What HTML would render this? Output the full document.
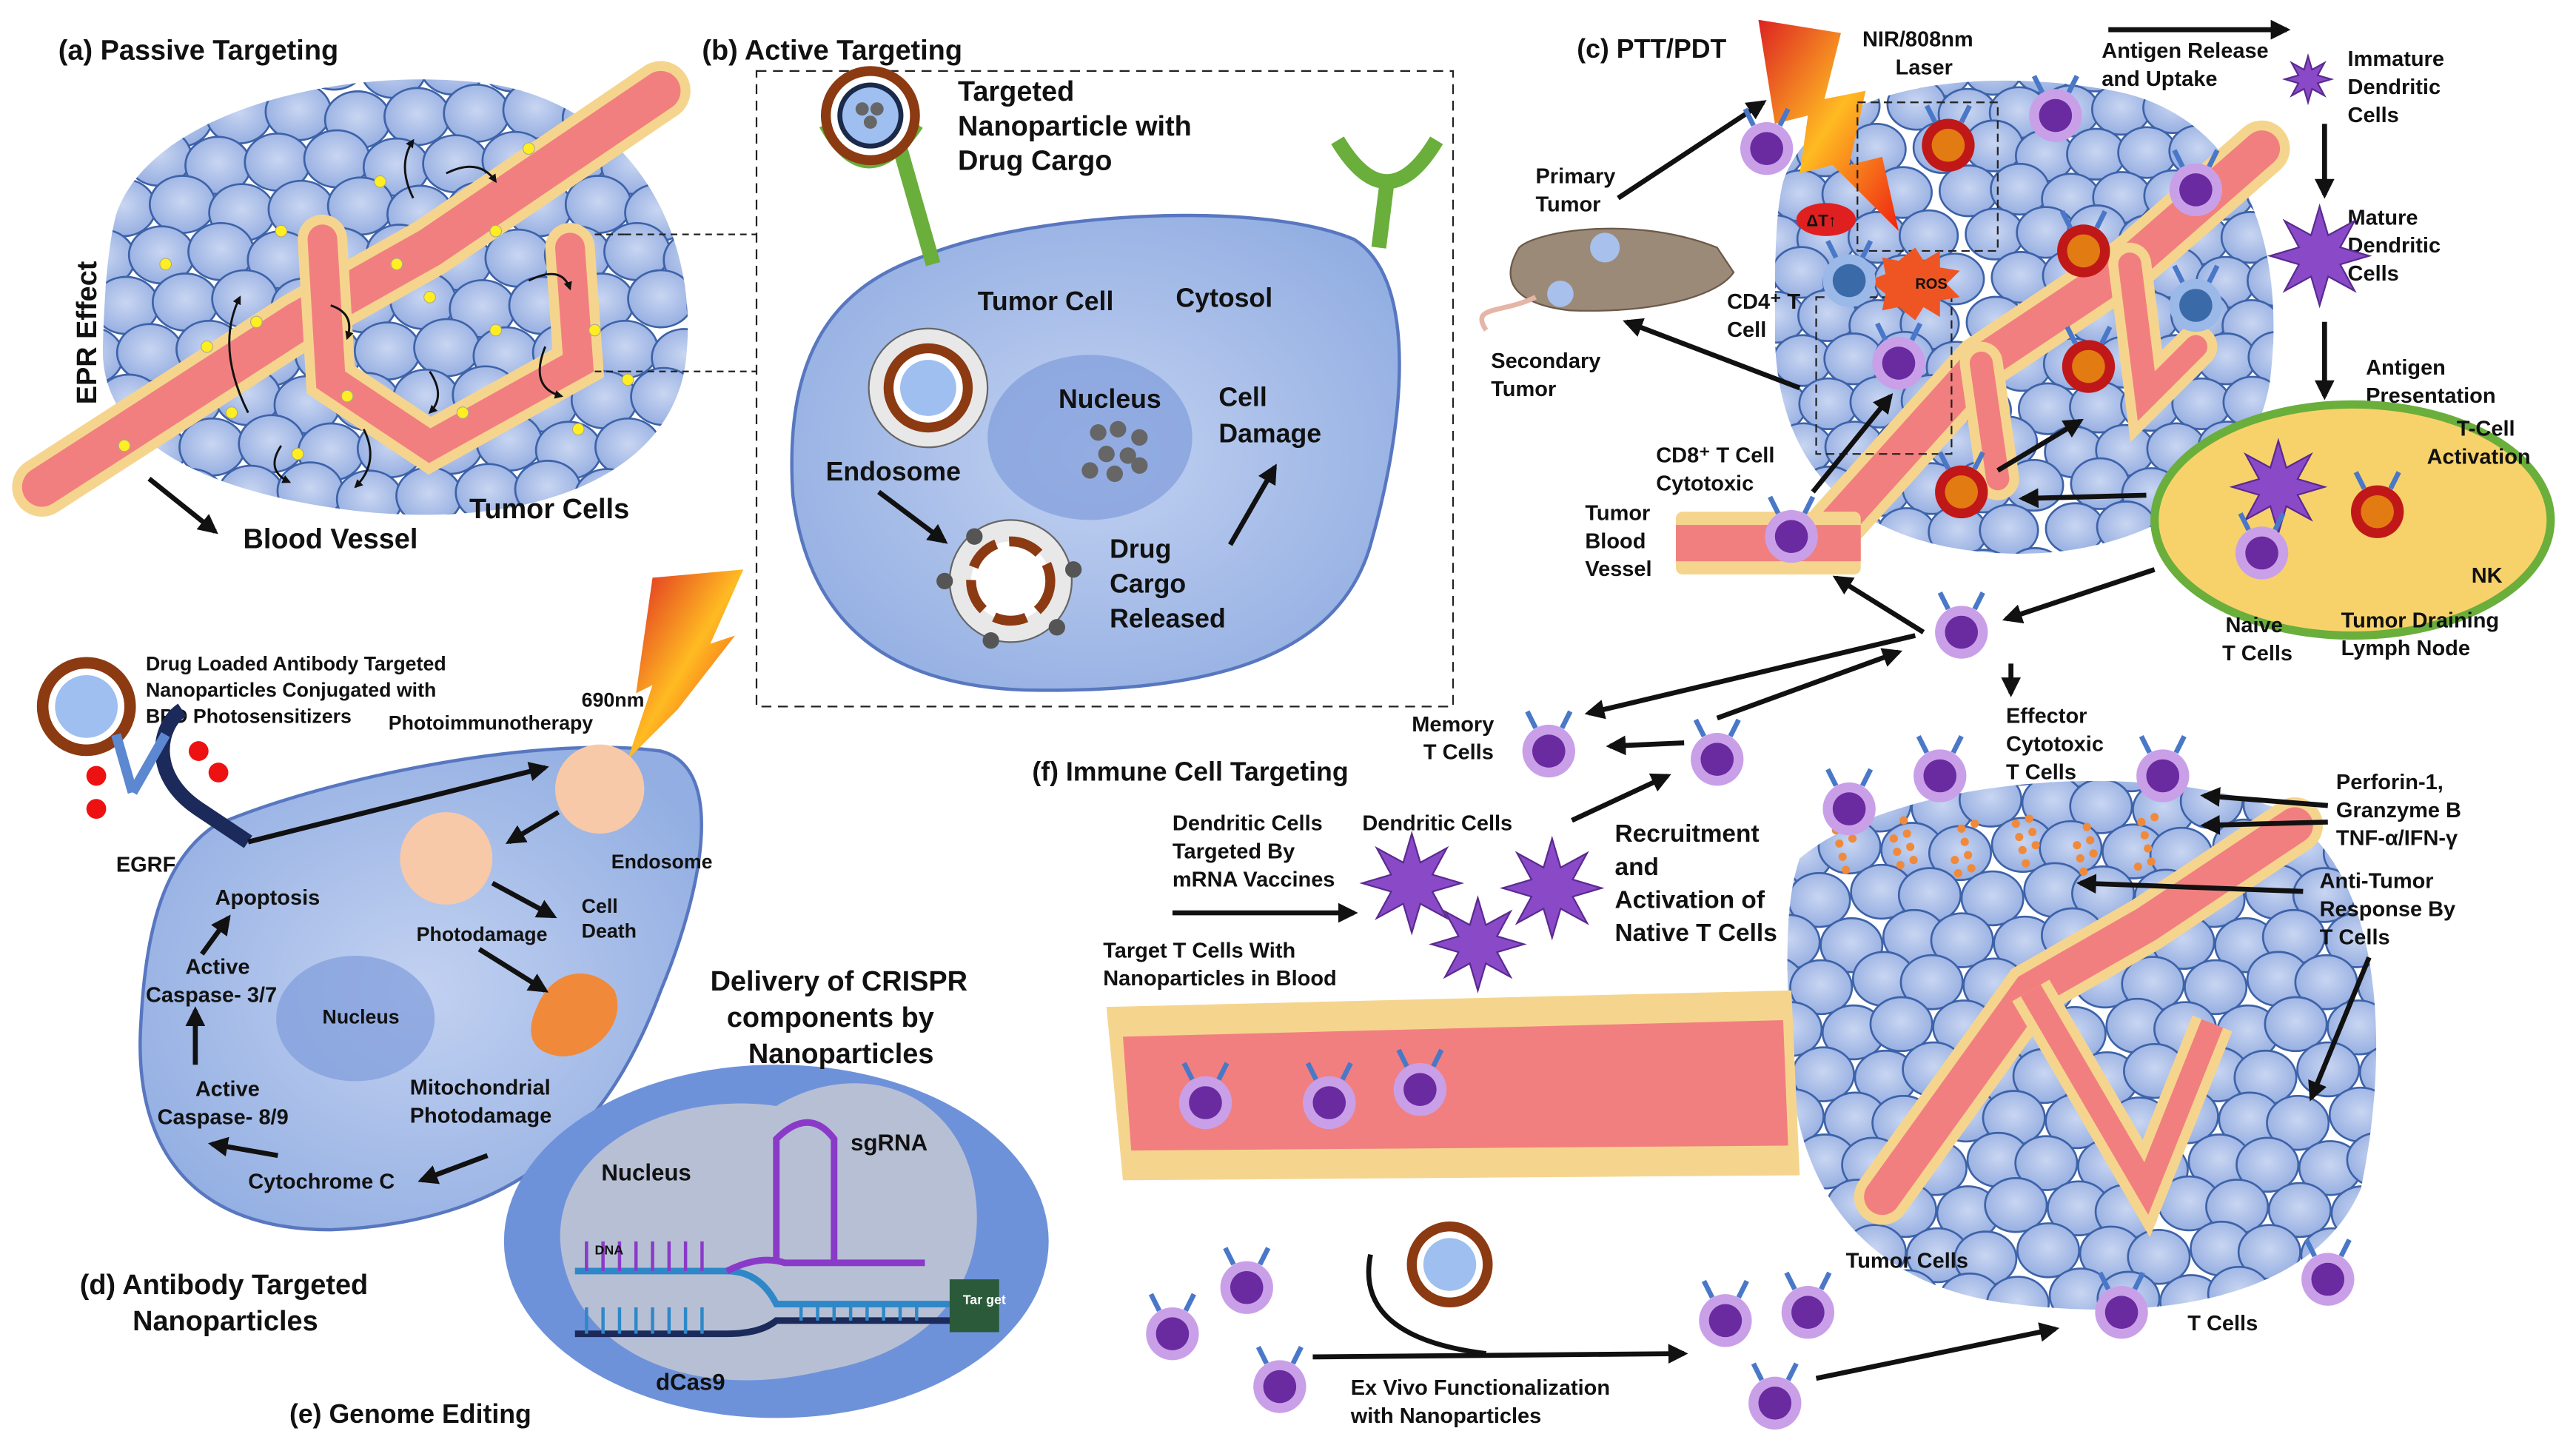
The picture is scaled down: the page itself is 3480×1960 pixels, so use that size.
<!DOCTYPE html>
<html><head><meta charset="utf-8"><style>
html,body{margin:0;padding:0;background:#fff}
svg{display:block}
text{font-family:"Liberation Sans",Arial,sans-serif;font-weight:bold;fill:#111}
</style></head><body>
<svg id="s" width="3480" height="1960" viewBox="0 0 1560 879" xmlns="http://www.w3.org/2000/svg">
<defs>
<radialGradient id="cell" cx="50%" cy="45%" r="60%"><stop offset="0" stop-color="#c9d6f2"/><stop offset="1" stop-color="#93ace0"/></radialGradient>
<radialGradient id="big" cx="50%" cy="50%" r="60%"><stop offset="0" stop-color="#c2d1f1"/><stop offset="1" stop-color="#92aee2"/></radialGradient>
<linearGradient id="bolt" x1="0" y1="0" x2="1" y2="1"><stop offset="0" stop-color="#d22"/><stop offset=".5" stop-color="#fb2"/><stop offset="1" stop-color="#e21"/></linearGradient>
<marker id="ar" viewBox="0 0 10 10" refX="8" refY="5" markerWidth="4" markerHeight="4" orient="auto"><path d="M0,0L10,5L0,10z" fill="#111"/></marker>
<clipPath id="ca"><path d="M70,130 C90,70 200,40 290,50 C380,60 425,140 415,220 C405,290 320,320 220,310 C130,300 60,270 62,210 C63,175 65,150 70,130Z"/></clipPath>
<clipPath id="cc"><path d="M1080,110 C1100,50 1200,40 1280,55 C1360,70 1385,150 1375,230 C1365,300 1290,340 1210,335 C1120,330 1075,280 1075,200 C1075,160 1075,130 1080,110Z"/></clipPath>
<clipPath id="cf"><path d="M1090,520 C1150,470 1300,460 1380,490 C1450,530 1445,650 1430,720 C1400,790 1300,800 1220,790 C1130,780 1090,720 1085,650 C1082,590 1080,550 1090,520Z"/></clipPath>
</defs>
<g id="cobA" clip-path="url(#ca)"></g>
<g id="cobC" clip-path="url(#cc)"></g>
<g id="cobF" clip-path="url(#cf)"></g>

<!-- (a) vessels -->
<g fill="none" stroke-linecap="round">
<path d="M25,295 L180,195 L260,150 L400,55" stroke="#f5d58e" stroke-width="36"/>
<path d="M25,295 L180,195 L260,150 L400,55" stroke="#f27f7f" stroke-width="24"/>
<path d="M195,145 L200,230 L260,270 L350,220 L345,150" stroke="#f5d58e" stroke-width="30"/>
<path d="M195,145 L200,230 L260,270 L350,220 L345,150" stroke="#f27f7f" stroke-width="18"/>
</g>
<g stroke="#111" fill="none" stroke-width="1.3" marker-end="url(#ar)">
<path d="M150,250 Q130,210 145,180"/><path d="M250,120 Q240,100 250,85"/><path d="M270,105 Q290,95 300,110"/><path d="M320,170 Q340,160 345,175"/><path d="M170,270 Q160,285 175,292"/><path d="M220,260 Q230,280 215,295"/><path d="M330,210 Q320,235 340,240"/><path d="M200,185 Q215,190 210,205"/><path d="M260,225 Q270,240 260,250"/>
</g>
<g fill="#ffee22" stroke="#aa8" stroke-width=".5" id="dotsA"></g>
<path d="M360,142 L378,142 M360,225 L378,225" stroke="#222" stroke-dasharray="4,3"/>
<path d="M378,142 L458,142 M378,225 L458,225" stroke="#222" stroke-dasharray="4,3"/>
<text x="35" y="36" font-size="17">(a)  Passive Targeting</text>
<text transform="translate(58,245) rotate(-90)" font-size="17">EPR Effect</text>
<path d="M90,290 L130,322" stroke="#111" stroke-width="3" marker-end="url(#ar)"/>
<text x="147" y="332" font-size="17">Blood Vessel</text>
<text x="284" y="314" font-size="17">Tumor Cells</text>

<!-- (b) -->
<text x="425" y="36" font-size="17">(b)  Active Targeting</text>
<rect x="458" y="43" width="422" height="385" fill="none" stroke="#222" stroke-dasharray="6,4"/>
<path d="M560,155 C620,130 760,120 820,145 C860,170 850,260 830,330 C810,400 730,420 620,418 C540,415 490,380 480,300 C475,220 500,175 560,155Z" fill="url(#big)" stroke="#5877c0" stroke-width="2"/>
<ellipse cx="660" cy="265" rx="62" ry="50" fill="#7f9ddb" opacity=".7"/>
<g fill="#666"><circle cx="665" cy="262" r="5"/><circle cx="677" cy="260" r="5"/><circle cx="690" cy="265" r="5"/><circle cx="670" cy="275" r="5"/><circle cx="683" cy="276" r="5"/><circle cx="660" cy="285" r="5"/><circle cx="675" cy="287" r="5"/><circle cx="690" cy="282" r="5"/></g>
<path d="M565,160 L545,90" stroke="#6aae3c" stroke-width="9"/>
<path d="M500,75 Q525,120 555,75" fill="none" stroke="#6aae3c" stroke-width="9"/>
<circle cx="527" cy="70" r="30" fill="#8b3a12"/><circle cx="527" cy="70" r="24" fill="#fff"/><circle cx="527" cy="70" r="20" fill="#1b2a4a"/><circle cx="527" cy="70" r="17" fill="#9ebff0"/>
<g fill="#666"><circle cx="522" cy="66" r="4"/><circle cx="531" cy="66" r="4"/><circle cx="527" cy="74" r="4"/></g>
<path d="M835,150 L840,110" stroke="#6aae3c" stroke-width="9"/>
<path d="M810,85 Q840,135 870,85" fill="none" stroke="#6aae3c" stroke-width="9"/>
<circle cx="562" cy="235" r="36" fill="#e8e8e8" stroke="#666"/>
<circle cx="562" cy="235" r="27" fill="#8b3a12"/><circle cx="562" cy="235" r="21" fill="#fff"/><circle cx="562" cy="235" r="17" fill="#9ebff0"/>
<circle cx="612" cy="352" r="37" fill="#e8e8e8" stroke="#666"/>
<circle cx="612" cy="352" r="24" fill="#fff" stroke="#8b3a12" stroke-width="6" stroke-dasharray="20,8"/>
<g fill="#555"><circle cx="572" cy="352" r="5"/><circle cx="590" cy="325" r="5"/><circle cx="650" cy="345" r="5"/><circle cx="640" cy="380" r="5"/><circle cx="600" cy="388" r="5"/></g>
<text x="580" y="61" font-size="17">Targeted</text><text x="580" y="82" font-size="17">Nanoparticle with</text><text x="580" y="103" font-size="17">Drug Cargo</text>
<text x="592" y="188" font-size="16">Tumor Cell</text><text x="712" y="186" font-size="16">Cytosol</text>
<text x="641" y="247" font-size="16">Nucleus</text><text x="738" y="246" font-size="16">Cell</text><text x="738" y="268" font-size="16">Damage</text>
<text x="500" y="291" font-size="16">Endosome</text>
<text x="672" y="338" font-size="16">Drug</text><text x="672" y="359" font-size="16">Cargo</text><text x="672" y="380" font-size="16">Released</text>
<path d="M532,298 L572,328" stroke="#111" stroke-width="3" marker-end="url(#ar)"/>
<path d="M745,330 L772,283" stroke="#111" stroke-width="3" marker-end="url(#ar)"/>

<!-- (c) -->
<text x="955" y="35" font-size="16">(c)  PTT/PDT</text>
<path d="M1065,12 L1115,20 L1105,60 L1130,55 L1120,100 L1140,95 L1150,140 L1110,100 L1090,105 L1095,70 L1075,75Z" fill="url(#bolt)"/>
<text x="1128" y="28" font-size="13">NIR/808nm</text><text x="1148" y="45" font-size="13">Laser</text>
<g fill="none" stroke-linecap="round">
<path d="M1110,320 L1200,220 L1290,160 L1370,90" stroke="#f5d58e" stroke-width="34"/>
<path d="M1110,320 L1200,220 L1290,160 L1370,90" stroke="#f27f7f" stroke-width="22"/>
<path d="M1200,220 L1210,290 M1290,160 L1300,240 L1330,210" stroke="#f5d58e" stroke-width="26"/>
<path d="M1200,220 L1210,290 M1290,160 L1300,240 L1330,210" stroke="#f27f7f" stroke-width="14"/>
</g>
<rect x="1125" y="62" width="85" height="90" fill="none" stroke="#222" stroke-dasharray="5,3"/>
<rect x="1100" y="180" width="82" height="95" fill="none" stroke="#222" stroke-dasharray="5,3"/>
<path d="M920,150 C930,140 990,130 1040,150 L1050,165 C1040,180 1000,190 950,188 C925,185 905,175 920,150Z" fill="#9c8a78" stroke="#6b5a4a"/>
<path d="M930,180 C910,190 890,185 900,200" stroke="#e5b6a8" stroke-width="3" fill="none"/>
<circle cx="972" cy="150" r="9" fill="#a8c0ec"/><circle cx="945" cy="178" r="8" fill="#a8c0ec"/>
<text x="930" y="111" font-size="13">Primary</text><text x="930" y="128" font-size="13">Tumor</text>
<text x="903" y="223" font-size="13">Secondary</text><text x="903" y="240" font-size="13">Tumor</text>
<text x="1046" y="187" font-size="13">CD4⁺ T</text><text x="1046" y="204" font-size="13">Cell</text>
<text x="1003" y="280" font-size="13">CD8⁺ T Cell</text><text x="1003" y="297" font-size="13">Cytotoxic</text>
<text x="960" y="315" font-size="13">Tumor</text><text x="960" y="332" font-size="13">Blood</text><text x="960" y="349" font-size="13">Vessel</text>
<g stroke="#111" stroke-width="3" marker-end="url(#ar)" fill="none">
<path d="M980,120 L1068,62"/><path d="M1090,235 L985,195"/><path d="M1098,298 L1145,240"/><path d="M1210,285 L1260,255"/><path d="M1300,300 L1225,302"/><path d="M1305,345 L1215,375"/><path d="M1165,383 L1112,350"/><path d="M1277,18 L1385,18"/><path d="M1408,75 L1408,118"/><path d="M1408,195 L1408,240"/>
</g>
<ellipse cx="1106" cy="133" rx="18" ry="10" fill="#e02020"/><text x="1094" y="137" font-size="10">ΔT↑</text>
<path d="M1150,158 l10,-8 5,8 10,-6 0,10 12,2 -8,8 8,8 -12,2 0,10 -10,-6 -5,8 -10,-8 -10,2 2,-10 -10,-8 10,-4 -2,-10z" fill="#e52"/><text x="1160" y="175" font-size="9">ROS</text>
<rect x="1015" y="310" width="112" height="38" fill="#f5d58e" rx="4"/><rect x="1015" y="318" width="112" height="22" fill="#f27f7f"/>
<text x="1273" y="35" font-size="13">Antigen Release</text><text x="1273" y="52" font-size="13">and Uptake</text>
<text x="1422" y="40" font-size="13">Immature</text><text x="1422" y="57" font-size="13">Dendritic</text><text x="1422" y="74" font-size="13">Cells</text>
<text x="1422" y="136" font-size="13">Mature</text><text x="1422" y="153" font-size="13">Dendritic</text><text x="1422" y="170" font-size="13">Cells</text>
<text x="1433" y="227" font-size="13">Antigen</text><text x="1433" y="244" font-size="13">Presentation</text>
<ellipse cx="1425" cy="315" rx="120" ry="70" fill="#f7d26a" stroke="#6aae3c" stroke-width="5"/>
<text x="1488" y="264" font-size="13">T-Cell</text><text x="1470" y="281" font-size="13">Activation</text>
<text x="1497" y="353" font-size="13">NK</text>
<text x="1348" y="383" font-size="13">Naive</text><text x="1346" y="400" font-size="13">T Cells</text>
<text x="1418" y="380" font-size="13">Tumor Draining</text><text x="1418" y="397" font-size="13">Lymph Node</text>
<g id="dcs"></g>

<!-- (d) -->
<path d="M130,500 C200,470 330,445 400,455 C440,465 425,540 400,600 C370,680 320,740 200,745 C120,745 80,700 85,620 C88,560 100,520 130,500Z" fill="url(#big)" stroke="#5877c0" stroke-width="2"/>
<ellipse cx="215" cy="617" rx="48" ry="38" fill="#7f9ddb" opacity=".7"/>
<text x="195" y="620" font-size="12">Nucleus</text>
<path d="M395,350 L450,345 L430,390 L445,385 L410,430 L420,420 L380,460 L395,415 L385,420Z" fill="url(#bolt)"/>
<text x="352" y="428" font-size="12">690nm</text><text x="235" y="442" font-size="12">Photoimmunotherapy</text>
<text x="88" y="406" font-size="12">Drug Loaded Antibody Targeted</text><text x="88" y="422" font-size="12">Nanoparticles Conjugated with</text><text x="88" y="438" font-size="12">BPD Photosensitizers</text>
<circle cx="52" cy="428" r="30" fill="#8b3a12"/><circle cx="52" cy="428" r="23" fill="#fff"/><circle cx="52" cy="428" r="19" fill="#9ebff0"/>
<path d="M150,510 L120,490 C90,470 95,440 110,430" stroke="#1b2a5a" stroke-width="9" fill="none"/>
<path d="M70,445 L80,480 M100,445 L80,480" stroke="#5b88d0" stroke-width="6"/>
<g fill="#e11"><circle cx="58" cy="470" r="6"/><circle cx="58" cy="490" r="6"/><circle cx="120" cy="455" r="6"/><circle cx="132" cy="468" r="6"/></g>
<text x="70" y="528" font-size="13">EGRF</text>
<circle cx="363" cy="478" r="27" fill="#f8c9a8"/><circle cx="270" cy="520" r="28" fill="#f8c9a8"/>
<path d="M325,610 C335,585 360,585 372,600 C380,620 360,640 340,640 C320,638 318,625 325,610Z" fill="#f08a3a"/>
<text x="370" y="526" font-size="12">Endosome</text><text x="252" y="570" font-size="12">Photodamage</text>
<text x="352" y="553" font-size="12">Cell</text><text x="352" y="568" font-size="12">Death</text>
<text x="130" y="548" font-size="13">Apoptosis</text>
<text x="112" y="590" font-size="13">Active</text><text x="88" y="607" font-size="13">Caspase- 3/7</text>
<text x="118" y="664" font-size="13">Active</text><text x="95" y="681" font-size="13">Caspase- 8/9</text>
<text x="150" y="720" font-size="13">Cytochrome C</text>
<text x="248" y="663" font-size="13">Mitochondrial</text><text x="248" y="680" font-size="13">Photodamage</text>
<g stroke="#111" stroke-width="3" marker-end="url(#ar)">
<line x1="150" y1="510" x2="330" y2="465"/><line x1="338" y1="492" x2="308" y2="510"/><line x1="298" y1="535" x2="335" y2="555"/><line x1="290" y1="575" x2="330" y2="600"/><line x1="295" y1="700" x2="255" y2="715"/><line x1="168" y1="700" x2="128" y2="693"/><line x1="118" y1="645" x2="118" y2="612"/><line x1="122" y1="578" x2="138" y2="556"/>
</g>
<text x="48" y="784" font-size="17">(d)  Antibody Targeted</text><text x="80" y="806" font-size="17">Nanoparticles</text>

<!-- (e) -->
<ellipse cx="470" cy="752" rx="165" ry="107" fill="#6e92da"/>
<path d="M340,760 C330,700 400,660 470,670 C520,640 580,660 590,720 C600,780 560,820 500,830 C420,850 350,820 340,760Z" fill="#b7bfd4"/>
<text x="430" y="600" font-size="17">Delivery of CRISPR</text><text x="440" y="622" font-size="17">components by</text><text x="453" y="644" font-size="17">Nanoparticles</text>
<text x="364" y="715" font-size="14">Nucleus</text><text x="515" y="697" font-size="14">sgRNA</text><text x="397" y="842" font-size="14">dCas9</text>
<g stroke-width="4" fill="none">
<path d="M348,770 L440,770 Q460,770 470,790 L580,790" stroke="#2e88c8"/>
<path d="M348,808 L440,808 Q460,808 470,800 L580,800" stroke="#1b2a5a"/>
<path d="M440,770 Q460,760 475,765 L560,765" stroke="#8a3ac8"/>
<path d="M470,765 L470,690 Q490,670 505,690 L505,765" stroke="#8a3ac8"/>
</g>
<g stroke="#8a3ac8" stroke-width="2"><path d="M355,770v-18M365,770v-18M375,770v-18M385,770v-18M395,770v-18M405,770v-18M415,770v-18M425,770v-18" /></g>
<g stroke="#2e88c8" stroke-width="2"><path d="M355,808v-16M365,808v-16M375,808v-16M385,808v-16M395,808v-16M405,808v-16M415,808v-16M425,808v-16M485,800v-10M495,800v-10M505,800v-10M515,800v-10M525,800v-10M535,800v-10M545,800v-10M555,800v-10"/></g>
<rect x="575" y="775" width="30" height="32" fill="#2a5a3a"/><text x="583" y="790" font-size="8" fill="#fff" style="fill:#fff">Tar get</text>
<text x="360" y="760" font-size="8">DNA</text>
<text x="175" y="862" font-size="16">(e)  Genome Editing</text>

<!-- (f) -->
<text x="625" y="473" font-size="16">(f)  Immune Cell Targeting</text>
<path d="M670,610 L1085,600 L1090,712 L680,715Z" fill="#f5d58e"/>
<path d="M680,628 L1080,618 L1083,694 L685,697Z" fill="#f27f7f"/>
<text x="710" y="503" font-size="13">Dendritic Cells</text><text x="710" y="520" font-size="13">Targeted By</text><text x="710" y="537" font-size="13">mRNA Vaccines</text>
<text x="825" y="503" font-size="13">Dendritic Cells</text>
<text x="668" y="580" font-size="13">Target T Cells With</text><text x="668" y="597" font-size="13">Nanoparticles in Blood</text>
<text x="978" y="510" font-size="15">Recruitment</text><text x="978" y="530" font-size="15">and</text><text x="978" y="550" font-size="15">Activation of</text><text x="978" y="570" font-size="15">Native T Cells</text>
<text x="855" y="443" font-size="13">Memory</text><text x="862" y="460" font-size="13">T Cells</text>
<text x="1215" y="438" font-size="13">Effector</text><text x="1215" y="455" font-size="13">Cytotoxic</text><text x="1215" y="472" font-size="13">T Cells</text>
<text x="1415" y="478" font-size="13">Perforin-1,</text><text x="1415" y="495" font-size="13">Granzyme B</text><text x="1415" y="512" font-size="13">TNF-α/IFN-γ</text>
<text x="1405" y="538" font-size="13">Anti-Tumor</text><text x="1405" y="555" font-size="13">Response By</text><text x="1405" y="572" font-size="13">T Cells</text>
<g fill="none">
<path d="M1140,725 L1230,600 L1300,560 L1390,500" stroke="#f5d58e" stroke-width="34" stroke-linecap="round"/>
<path d="M1140,725 L1230,600 L1300,560 L1390,500" stroke="#f27f7f" stroke-width="22" stroke-linecap="round"/>
<path d="M1230,600 L1300,720 L1340,620" stroke="#f5d58e" stroke-width="26"/>
<path d="M1230,600 L1300,720 L1340,620" stroke="#f27f7f" stroke-width="14"/>
</g>
<text x="1118" y="768" font-size="13">Tumor Cells</text><text x="1325" y="806" font-size="13">T Cells</text>
<text x="818" y="845" font-size="13">Ex Vivo Functionalization</text><text x="818" y="862" font-size="13">with Nanoparticles</text>
<g stroke="#111" stroke-width="3" marker-end="url(#ar)">
<line x1="710" y1="553" x2="820" y2="553"/><line x1="952" y1="497" x2="1010" y2="470"/><line x1="1020" y1="450" x2="975" y2="452"/><line x1="1160" y1="385" x2="962" y2="432"/><line x1="1040" y1="435" x2="1150" y2="395"/><line x1="1218" y1="402" x2="1218" y2="420"/><line x1="1395" y1="540" x2="1260" y2="535"/><line x1="1410" y1="488" x2="1335" y2="482"/><line x1="1410" y1="498" x2="1335" y2="500"/><line x1="1435" y1="580" x2="1400" y2="665"/><line x1="795" y1="822" x2="1020" y2="820"/><line x1="1100" y1="835" x2="1245" y2="805"/>
</g>
<path d="M830,760 Q820,810 900,820" stroke="#111" stroke-width="3" fill="none"/>
<circle cx="878" cy="766" r="26" fill="#8b3a12"/><circle cx="878" cy="766" r="20" fill="#fff"/><circle cx="878" cy="766" r="16" fill="#9ebff0"/>
<g fill="#f08a3a" id="dotsF"></g>
<g id="tcells"></g>
</svg>
<script>
(function(){
var NS="http://www.w3.org/2000/svg";
function el(p,t,a){var e=document.createElementNS(NS,t);for(var k in a)e.setAttribute(k,a[k]);p.appendChild(e);return e;}
function cob(id,x0,y0,w,h,s){var g=document.getElementById(id);var r=0;
for(var y=y0;y<y0+h;y+=s*0.8){r++;for(var x=x0+(r%2)*s/2;x<x0+w;x+=s){
el(g,"ellipse",{cx:x+((x*7+y*3)%9-4),cy:y+((x*5+y)%7-3),rx:s*0.55,ry:s*0.48,fill:"url(#cell)",stroke:"#3d62a8","stroke-width":1.2});}}}
cob("cobA",40,40,400,290,36);cob("cobC",1060,40,330,310,32);cob("cobF",1070,460,380,350,34);
var d=document.getElementById("dotsA");
[[100,160],[125,210],[170,140],[230,110],[260,180],[300,140],[320,90],[360,200],[210,240],[280,250],[180,275],[350,260],[140,250],[75,270],[240,160],[300,200],[380,230],[155,195]].forEach(function(p){el(d,"circle",{cx:p[0],cy:p[1],r:3.5});});
var df=document.getElementById("dotsF");
for(var i=0;i<40;i++){var x=1110+(i*37)%220,y=495+(i*13)%35;el(df,"circle",{cx:x,cy:y,r:2.5});}
var t=document.getElementById("tcells");
function tc(x,y,c,o){el(t,"circle",{cx:x,cy:y,r:16,fill:o||"#c9a0e8"});el(t,"circle",{cx:x,cy:y,r:10,fill:c||"#6a2aa0"});
el(t,"path",{d:"M"+(x-8)+","+(y-14)+"l-5,-10 M"+(x+8)+","+(y-14)+"l5,-10",stroke:"#4a78c8","stroke-width":3});}
[[1070,90],[1245,70],[1330,115],[1150,220],[1085,325],[1188,383],[1370,335],[938,455],[1040,460],[1120,490],[1175,470],[1310,470],[730,668],[805,668],[860,660],[710,808],[755,780],[775,840],[1045,800],[1095,795],[1075,850],[1285,795],[1410,775]].forEach(function(p){tc(p[0],p[1]);});
[[1180,88,"#e27b12","#c01818"],[1262,152,"#e27b12","#c01818"],[1265,222,"#e27b12","#c01818"],[1188,298,"#e27b12","#c01818"],[1440,310,"#e27b12","#c01818"],[1120,170,"#3a6aa8","#9ab8e8"],[1330,185,"#3a6aa8","#9ab8e8"]].forEach(function(p){tc(p[0],p[1],p[2],p[3]);});
var dc=document.getElementById("dcs");
function star(x,y,r){var s="";for(var i=0;i<16;i++){var a=i*Math.PI/8,rr=i%2?r*0.45:r;s+=(i?"L":"M")+(x+rr*Math.cos(a))+","+(y+rr*Math.sin(a));}el(dc,"path",{d:s+"Z",fill:"#8a4ac8",stroke:"#5a2a90"});}
star(1398,48,14);star(1405,155,30);star(1380,295,28);star(855,535,30);star(895,572,28);star(940,538,30);
})();
</script>
</body></html>
